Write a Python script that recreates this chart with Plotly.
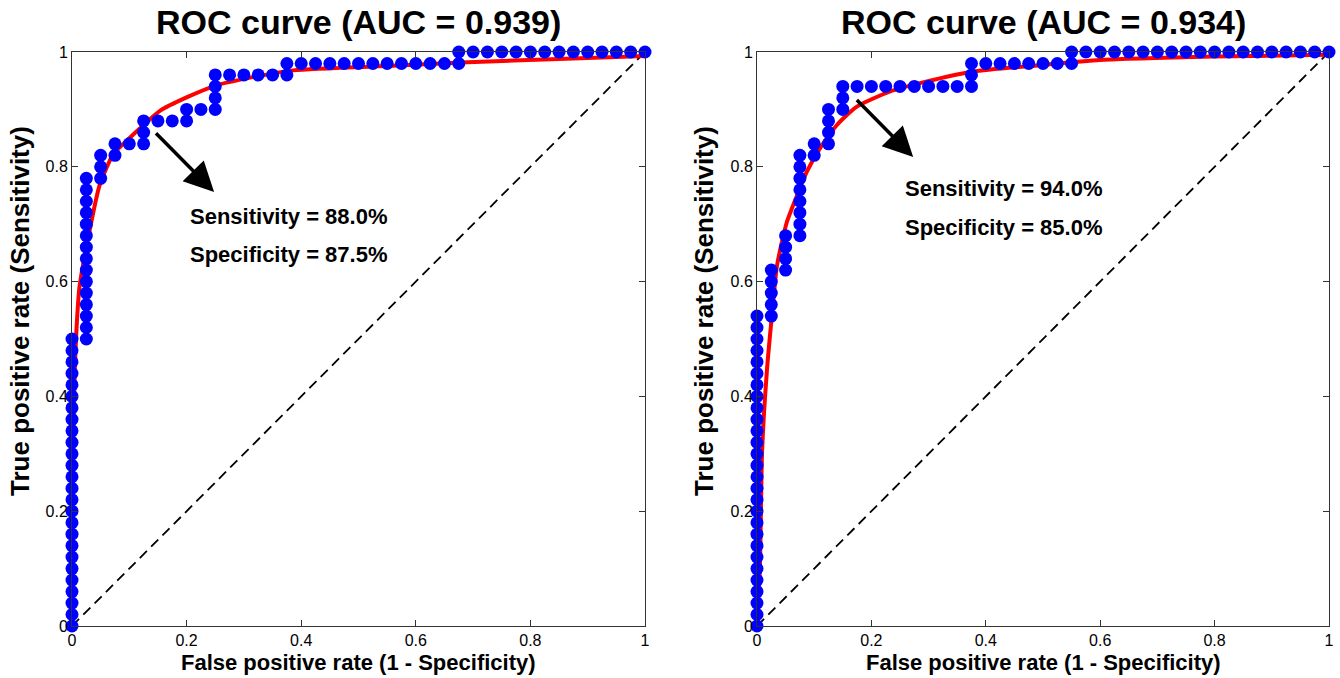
import plotly.graph_objects as go

# ---------------- data ----------------
titles = ["ROC curve (AUC = 0.939)", "ROC curve (AUC = 0.934)"]
x_title = "False positive rate (1 - Specificity)"
y_title = "True positive rate (Sensitivity)"
sens_text = ["Sensitivity = 88.0%", "Sensitivity = 94.0%"]
spec_text = ["Specificity = 87.5%", "Specificity = 85.0%"]
tick_vals = [0, 0.2, 0.4, 0.6, 0.8, 1]

# empirical ROC points: one list of TPR values per FPR column
left_fpr_cols = [0.0, 0.025, 0.05, 0.075, 0.1, 0.125, 0.15, 0.175, 0.2, 0.225,
                 0.25, 0.275, 0.3, 0.325, 0.35, 0.375, 0.4, 0.425, 0.45, 0.475,
                 0.5, 0.525, 0.55, 0.575, 0.6, 0.625, 0.65, 0.675, 0.7, 0.725,
                 0.75, 0.775, 0.8, 0.825, 0.85, 0.875, 0.9, 0.925, 0.95, 0.975, 1.0]
left_tpr_cols = [
    [0.00, 0.02, 0.04, 0.06, 0.08, 0.10, 0.12, 0.14, 0.16, 0.18, 0.20, 0.22, 0.24,
     0.26, 0.28, 0.30, 0.32, 0.34, 0.36, 0.38, 0.40, 0.42, 0.44, 0.46, 0.48, 0.50],
    [0.50, 0.52, 0.54, 0.56, 0.58, 0.60, 0.62, 0.64, 0.66, 0.68, 0.70, 0.72, 0.74, 0.76, 0.78],
    [0.78, 0.80, 0.82],
    [0.82, 0.84],
    [0.84],
    [0.84, 0.86, 0.88],
    [0.88],
    [0.88],
    [0.88, 0.90],
    [0.90],
    [0.90, 0.92, 0.94, 0.96],
    [0.96], [0.96], [0.96], [0.96],
    [0.96, 0.98],
    [0.98], [0.98], [0.98], [0.98], [0.98], [0.98], [0.98], [0.98], [0.98], [0.98], [0.98],
    [0.98, 1.00],
    [1.00], [1.00], [1.00], [1.00], [1.00], [1.00], [1.00], [1.00], [1.00], [1.00],
    [1.00], [1.00], [1.00],
]

right_fpr_cols = [0.0, 0.025, 0.05, 0.075, 0.1, 0.125, 0.15, 0.175, 0.2, 0.225,
                  0.25, 0.275, 0.3, 0.325, 0.35, 0.375, 0.4, 0.425, 0.45, 0.475,
                  0.5, 0.525, 0.55, 0.575, 0.6, 0.625, 0.65, 0.675, 0.7, 0.725,
                  0.75, 0.775, 0.8, 0.825, 0.85, 0.875, 0.9, 0.925, 0.95, 0.975, 1.0]
right_tpr_cols = [
    [0.00, 0.02, 0.04, 0.06, 0.08, 0.10, 0.12, 0.14, 0.16, 0.18, 0.20, 0.22, 0.24, 0.26,
     0.28, 0.30, 0.32, 0.34, 0.36, 0.38, 0.40, 0.42, 0.44, 0.46, 0.48, 0.50, 0.52, 0.54],
    [0.54, 0.56, 0.58, 0.60, 0.62],
    [0.62, 0.64, 0.66, 0.68],
    [0.68, 0.70, 0.72, 0.74, 0.76, 0.78, 0.80, 0.82],
    [0.82, 0.84],
    [0.84, 0.86, 0.88, 0.90],
    [0.90, 0.92, 0.94],
    [0.94], [0.94], [0.94], [0.94], [0.94], [0.94], [0.94], [0.94],
    [0.94, 0.96, 0.98],
    [0.98], [0.98], [0.98], [0.98], [0.98], [0.98],
    [0.98, 1.00],
    [1.00], [1.00], [1.00], [1.00], [1.00], [1.00], [1.00], [1.00], [1.00],
    [1.00], [1.00], [1.00], [1.00], [1.00], [1.00], [1.00], [1.00], [1.00],
]

# fitted smooth ROC curves
left_fit_fpr = [0.0, 0.002, 0.005, 0.008, 0.013, 0.03, 0.048, 0.072, 0.095, 0.124,
                0.154, 0.2, 0.252, 0.305, 0.386, 0.56, 0.69, 0.85, 1.0]
left_fit_tpr = [0.0, 0.30, 0.45, 0.52, 0.59, 0.685, 0.767, 0.822, 0.845, 0.872,
                0.898, 0.921, 0.942, 0.954, 0.968, 0.976, 0.982, 0.988, 0.993]
right_fit_fpr = [0.0, 0.005, 0.009, 0.0175, 0.026, 0.035, 0.052, 0.07, 0.087, 0.11,
                 0.139, 0.174, 0.232, 0.29, 0.378, 0.494, 0.6, 0.8, 1.0]
right_fit_tpr = [0.0, 0.10, 0.307, 0.447, 0.54, 0.628, 0.703, 0.75, 0.791, 0.832,
                 0.872, 0.9045, 0.931, 0.947, 0.966, 0.977, 0.986, 0.992, 0.995]

# arrow tail / tip and text anchor (data coords)
arrow_tail = [(0.144, 0.861), (0.172, 0.919)]
arrow_tip = [(0.248, 0.756), (0.273, 0.817)]
text_pos = [(0.203, 0.714, 0.647), (0.255, 0.762, 0.695)]

# ---------------- figure ----------------
W, H = 1340, 678


def px_x(X):
    return X / W


def px_y(Y):
    return 1 - Y / H


x_dom = [[px_x(72), px_x(645)], [px_x(757), px_x(1329)]]
y_dom = [px_y(626), px_y(52)]

fig = go.Figure()
panels = [(left_fpr_cols, left_tpr_cols, left_fit_fpr, left_fit_tpr),
          (right_fpr_cols, right_tpr_cols, right_fit_fpr, right_fit_tpr)]
FONT = "Arial, Liberation Sans, sans-serif"
title_cx = [358, 1043]
ytitle_x = [20, 704]

for i, (fc, tc, ffx, ffy) in enumerate(panels):
    xa = "x" if i == 0 else "x2"
    ya = "y" if i == 0 else "y2"
    px, py = [], []
    for xv, ys in zip(fc, tc):
        for yv in ys:
            px.append(xv)
            py.append(yv)
    # diagonal chance line
    fig.add_trace(go.Scatter(x=[0, 1], y=[0, 1], mode="lines", xaxis=xa, yaxis=ya,
                             line=dict(color="black", width=1.8, dash="10px,6px"),
                             showlegend=False, hoverinfo="skip"))
    fig.add_trace(go.Scatter(x=ffx, y=ffy, mode="lines", xaxis=xa, yaxis=ya,
                             line=dict(color="red", width=4, shape="spline", smoothing=0.6),
                             showlegend=False, cliponaxis=False))
    fig.add_trace(go.Scatter(x=px, y=py, mode="markers", xaxis=xa, yaxis=ya,
                             marker=dict(color="blue", size=13, line=dict(width=0)),
                             showlegend=False, cliponaxis=False))

    fig.add_annotation(text=f"<b>{titles[i]}</b>", xref="paper", yref="paper",
                       x=px_x(title_cx[i]), y=px_y(22), showarrow=False,
                       xanchor="center", yanchor="middle",
                       font=dict(family=FONT, size=34, color="black"))
    fig.add_annotation(text=f"<b>{x_title}</b>", xref="paper", yref="paper",
                       x=px_x(title_cx[i]), y=px_y(662), showarrow=False,
                       xanchor="center", yanchor="middle",
                       font=dict(family=FONT, size=22, color="black"))
    fig.add_annotation(text=f"<b>{y_title}</b>", xref="paper", yref="paper",
                       x=px_x(ytitle_x[i]), y=px_y(311), showarrow=False,
                       textangle=-90, xanchor="center", yanchor="middle",
                       font=dict(family=FONT, size=26, color="black"))
    # arrow
    fig.add_annotation(x=arrow_tip[i][0], y=arrow_tip[i][1], ax=arrow_tail[i][0], ay=arrow_tail[i][1],
                       xref=xa, yref=ya, axref=xa, ayref=ya, text="", showarrow=True,
                       arrowhead=2, arrowsize=1.7, arrowwidth=3.5, arrowcolor="black")
    tx, ty1, ty2 = text_pos[i]
    fig.add_annotation(text=f"<b>{sens_text[i]}</b>", x=tx, y=ty1, xref=xa, yref=ya,
                       showarrow=False, xanchor="left", yanchor="middle",
                       font=dict(family=FONT, size=22, color="black"))
    fig.add_annotation(text=f"<b>{spec_text[i]}</b>", x=tx, y=ty2, xref=xa, yref=ya,
                       showarrow=False, xanchor="left", yanchor="middle",
                       font=dict(family=FONT, size=22, color="black"))

axis_style = dict(range=[0, 1], tickvals=tick_vals, ticks="inside", ticklen=6, tickwidth=1,
                  tickcolor="#333", showline=True, linecolor="#333", linewidth=1,
                  mirror="allticks", showgrid=False, zeroline=False, automargin=False,
                  tickfont=dict(family=FONT, size=16, color="black"), fixedrange=True)

fig.update_layout(
    width=W, height=H, margin=dict(l=0, r=0, t=0, b=0, autoexpand=False),
    paper_bgcolor="white", plot_bgcolor="white",
    xaxis=dict(domain=x_dom[0], anchor="y", **axis_style),
    yaxis=dict(domain=y_dom, anchor="x", **axis_style),
    xaxis2=dict(domain=x_dom[1], anchor="y2", **axis_style),
    yaxis2=dict(domain=y_dom, anchor="x2", **axis_style),
)

fig.write_html("out.html")
